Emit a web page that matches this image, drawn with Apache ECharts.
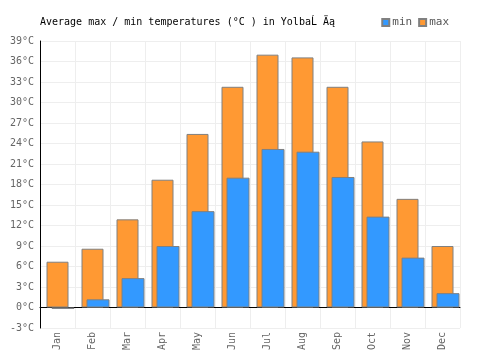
<!DOCTYPE html>
<html>
<head>
<meta charset="utf-8">
<script src="https://cdn.jsdelivr.net/npm/echarts@6/dist/echarts.min.js"></script>
<style>
  html, body { margin: 0; padding: 0; background: #fff; }
  #chart { width: 500px; height: 350px; }
</style>
</head>
<body>
<div id="chart"></div>
<script>
var months = ['Jan', 'Feb', 'Mar', 'Apr', 'May', 'Jun', 'Jul', 'Aug', 'Sep', 'Oct', 'Nov', 'Dec'];
var maxTemp = [6.7, 8.6, 12.9, 18.7, 25.4, 32.3, 37.0, 36.6, 32.3, 24.3, 15.9, 9.0];
var minTemp = [-0.2, 1.2, 4.3, 9.0, 14.1, 19.0, 23.2, 22.8, 19.1, 13.3, 7.3, 2.1];
var spacer = [0, 0, 0, 0, 0, 0, 0, 0, 0, 0, 0, 0];

var font = '"DejaVu Sans Mono", monospace';
var chart = echarts.init(document.getElementById('chart'));
var option = {
  animation: false,
  title: {
    text: 'Average max / min temperatures (°C ) in YolbaĹ Äą',
    left: 35,
    top: 12,
    textStyle: { fontFamily: font, fontSize: 10, fontWeight: 'normal', color: '#000' }
  },
  legend: {
    data: ['min', 'max'],
    right: 46,
    top: 12,
    itemWidth: 7,
    itemHeight: 7,
    itemGap: 6,
    icon: 'rect',
    textStyle: { fontFamily: font, fontSize: 11, color: '#555', padding: [0, 0, 0, -2] }
  },
  grid: { left: 40, right: 40, top: 41, bottom: 22, containLabel: false, outerBoundsMode: 'none' },
  xAxis: {
    type: 'category',
    data: months,
    axisLine: { onZero: true, lineStyle: { color: '#000', width: 1 } },
    axisTick: { show: false },
    axisLabel: { rotate: 90, fontFamily: font, fontSize: 10, color: '#666', margin: 4 },
    splitLine: { show: true, lineStyle: { color: '#eeeeee' } }
  },
  yAxis: {
    type: 'value',
    min: -3,
    max: 39,
    interval: 3,
    axisLine: { show: true, lineStyle: { color: '#000', width: 1 } },
    axisTick: { show: false },
    axisLabel: { formatter: '{value}°C', fontFamily: font, fontSize: 10, color: '#666', margin: 6 },
    splitLine: { show: true, lineStyle: { color: '#eeeeee' } }
  },
  series: [
    {
      name: 'max',
      type: 'bar',
      data: maxTemp,
      barWidth: 22,
      barGap: '-77.27%',
      itemStyle: { color: '#ff9933', borderColor: '#808080', borderWidth: 1 }
    },
    {
      name: 'min',
      type: 'bar',
      data: minTemp,
      barWidth: 23,
      barGap: '-77.27%',
      itemStyle: { color: '#3399ff', borderColor: '#808080', borderWidth: 1 }
    },
    {
      name: 'spacer',
      type: 'bar',
      data: spacer,
      barWidth: 11.77,
      barGap: '-77.27%',
      silent: true,
      itemStyle: { color: 'transparent', borderWidth: 0 }
    }
  ]
};
option && chart.setOption(option);
</script>
</body>
</html>
